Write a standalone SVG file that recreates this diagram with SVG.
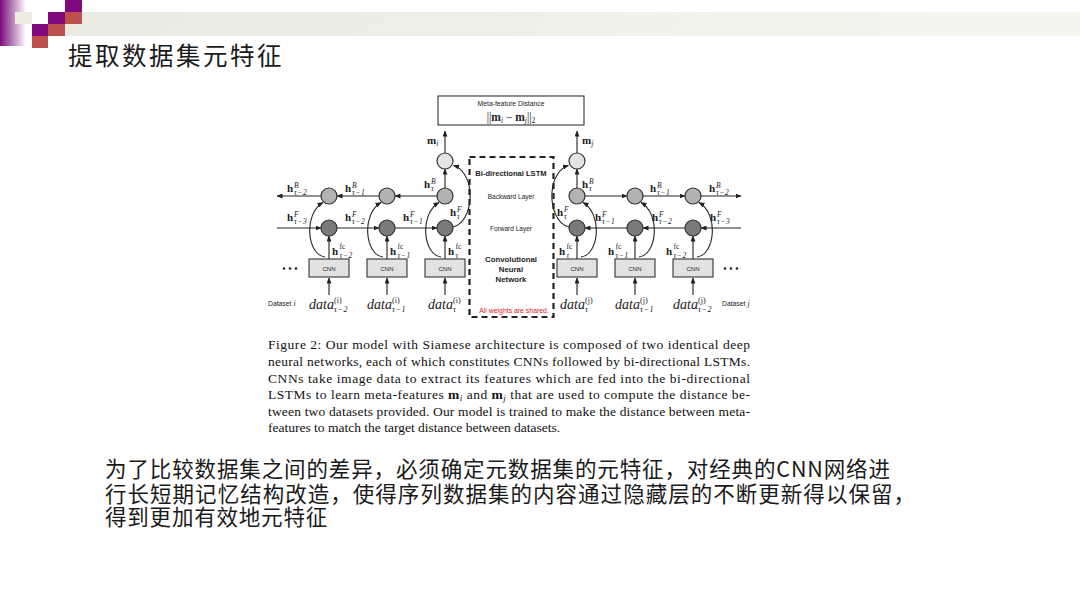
<svg xmlns="http://www.w3.org/2000/svg" width="1080" height="608" viewBox="0 0 1080 608">
<defs>
<linearGradient id="gstrip" x1="0" y1="0" x2="1" y2="0">
<stop offset="0" stop-color="#7a0a7c"/>
<stop offset="1" stop-color="#ffffff"/>
</linearGradient>
<linearGradient id="gband" x1="0" y1="0" x2="1" y2="0">
<stop offset="0" stop-color="#ecebe1"/>
<stop offset="1" stop-color="#f6f5f0"/>
</linearGradient>
<marker id="ah" markerUnits="userSpaceOnUse" markerWidth="6" markerHeight="5" refX="5.5" refY="2.5" orient="auto">
<path d="M0,0 L6,2.5 L0,5 z" fill="#222"/>
</marker>
<style>
.ln{stroke:#222;stroke-width:1.1;fill:none}
.ar{marker-end:url(#ah)}
.sf{font-family:"Liberation Sans",Arial,sans-serif;fill:#222}
.mf{font-family:"Liberation Serif","Times New Roman",serif;fill:#222}
.h{font-family:"Liberation Serif","Times New Roman",serif;font-weight:bold;font-size:11px;fill:#222}
.sp{font-weight:normal;font-style:italic;font-size:7.5px}
.sb{font-weight:normal;font-style:italic;font-size:7.5px;letter-spacing:0.6px}
.fc{font-weight:normal;font-style:normal;font-size:7.5px}
.dt{font-family:"Liberation Serif","Times New Roman",serif;font-style:italic;font-size:14px;fill:#222}
.ds{font-size:8px;font-style:normal}
.dsb{font-size:8px;font-style:italic;letter-spacing:0.6px}
.cir{stroke:#333;stroke-width:1.2}
.top{fill:#e4e4e4}
.bw{fill:#b2b2b2}
.fw{fill:#7a7a7a}
.cnn{fill:#e2e2e2;stroke:#333;stroke-width:1.1}
.cnt{font-family:"Liberation Sans",Arial,sans-serif;font-size:6px;fill:#222;text-anchor:middle}
.cap{font-family:"Liberation Serif","Times New Roman",serif;font-size:13.5px;fill:#111}
.zh{font-family:"Noto Sans CJK SC","Noto Sans",sans-serif;fill:#1a1a1a}
</style>
</defs>

<rect width="1080" height="608" fill="#ffffff"/>

<g id="decoration">
<rect x="0" y="0" width="26" height="46" fill="url(#gstrip)"/>
<rect x="82" y="12" width="998" height="12" fill="url(#gband)"/>
<rect x="65" y="24" width="1015" height="12" fill="url(#gband)"/>
<rect x="15" y="12" width="17" height="12" fill="#eeece1"/>
<rect x="65" y="0" width="17" height="12" fill="#7f0a80"/>
<rect x="48" y="12" width="17" height="12" fill="#7f0a80"/>
<rect x="32" y="24" width="16" height="12" fill="#7f0a80"/>
<rect x="65" y="12" width="17" height="12" fill="#c0504d"/>
<rect x="48" y="24" width="17" height="12" fill="#c0504d"/>
<rect x="32" y="36" width="16" height="12" fill="#c0504d"/>
</g>

<g id="title">
<text x="68" y="65" class="zh" font-size="24.5" letter-spacing="2.5">提取数据集元特征</text>
</g>

<g id="connectors">
<line class="ln ar" x1="445" y1="153" x2="445" y2="131"/>
<line class="ln ar" x1="577" y1="153" x2="577" y2="131"/>
<line class="ln ar" x1="445" y1="188" x2="445" y2="169"/>
<line class="ln ar" x1="577" y1="188" x2="577" y2="169"/>
<line class="ln ar" x1="437" y1="196" x2="395" y2="196"/>
<line class="ln ar" x1="379" y1="196" x2="337" y2="196"/>
<line class="ln ar" x1="321" y1="196" x2="277" y2="196"/>
<line class="ln ar" x1="277" y1="228" x2="321" y2="228"/>
<line class="ln ar" x1="337" y1="228" x2="379" y2="228"/>
<line class="ln ar" x1="395" y1="228" x2="437" y2="228"/>
<line class="ln ar" x1="585" y1="196" x2="627" y2="196"/>
<line class="ln ar" x1="643" y1="196" x2="685" y2="196"/>
<line class="ln ar" x1="701" y1="196" x2="741" y2="196"/>
<line class="ln ar" x1="741" y1="228" x2="701" y2="228"/>
<line class="ln ar" x1="685" y1="228" x2="643" y2="228"/>
<line class="ln ar" x1="627" y1="228" x2="585" y2="228"/>
<line class="ln ar" x1="329" y1="259" x2="329" y2="236"/>
<line class="ln ar" x1="387" y1="259" x2="387" y2="236"/>
<line class="ln ar" x1="445" y1="259" x2="445" y2="236"/>
<line class="ln ar" x1="577" y1="259" x2="577" y2="236"/>
<line class="ln ar" x1="635" y1="259" x2="635" y2="236"/>
<line class="ln ar" x1="693" y1="259" x2="693" y2="236"/>
<line class="ln ar" x1="329" y1="295" x2="329" y2="278"/>
<line class="ln ar" x1="387" y1="295" x2="387" y2="278"/>
<line class="ln ar" x1="445" y1="295" x2="445" y2="278"/>
<line class="ln ar" x1="577" y1="295" x2="577" y2="278"/>
<line class="ln ar" x1="635" y1="295" x2="635" y2="278"/>
<line class="ln ar" x1="693" y1="295" x2="693" y2="278"/>
<path class="ln ar" d="M325,257 C307,255 303,214 323,202.5"/>
<path class="ln ar" d="M383,257 C365,255 361,214 381,202.5"/>
<path class="ln ar" d="M441,257 C423,255 419,214 439,202.5"/>
<path class="ln ar" d="M581,257 C599,255 603,214 583,202.5"/>
<path class="ln ar" d="M639,257 C657,255 661,214 641,202.5"/>
<path class="ln ar" d="M697,257 C715,255 719,214 699,202.5"/>
<path class="ln ar" d="M453,227 C466,224 471,206 470,192 C469,178 462,168 453.5,165.5"/>
<path class="ln ar" d="M569,227 C556,224 551,206 552,192 C553,178 560,168 568.5,165.5"/>
</g>

<g id="distance-box">
<rect x="438" y="96" width="146" height="29" fill="#ffffff" stroke="#333" stroke-width="1.1"/>
<text x="511" y="106" class="sf" font-size="6.8" text-anchor="middle">Meta-feature Distance</text>
<text x="511" y="121" class="mf" font-size="11.5" text-anchor="middle">||<tspan font-weight="bold">m</tspan><tspan font-style="italic" font-size="7.5" dy="2">i</tspan><tspan dy="-2"> − </tspan><tspan font-weight="bold">m</tspan><tspan font-style="italic" font-size="7.5" dy="2">j</tspan><tspan dy="-2">||</tspan><tspan font-size="7.5" dy="2">2</tspan></text>
</g>

<g id="output-labels">
<text x="427" y="144" class="mf" font-size="11" font-weight="bold">m<tspan font-weight="normal" font-style="italic" font-size="7.5" dy="2">i</tspan></text>
<text x="582" y="144" class="mf" font-size="11" font-weight="bold">m<tspan font-weight="normal" font-style="italic" font-size="7.5" dy="2">j</tspan></text>
</g>

<g id="shared-box">
<rect x="469.5" y="157" width="84" height="160" fill="none" stroke="#222" stroke-width="2.2" stroke-dasharray="6,4"/>
<text x="511" y="176" class="sf" font-size="7.6" font-weight="bold" text-anchor="middle">Bi-directional LSTM</text>
<text x="511" y="199" class="sf" font-size="6.5" text-anchor="middle">Backward Layer</text>
<text x="511" y="231" class="sf" font-size="6.5" text-anchor="middle">Forward Layer</text>
<text x="511" y="262" class="sf" font-size="7.8" font-weight="bold" text-anchor="middle">Convolutional</text>
<text x="511" y="272" class="sf" font-size="7.8" font-weight="bold" text-anchor="middle">Neural</text>
<text x="511" y="281.5" class="sf" font-size="7.8" font-weight="bold" text-anchor="middle">Network</text>
<text x="514" y="313" font-family="Liberation Sans, Arial, sans-serif" font-size="6.9" fill="#e8161b" text-anchor="middle">All weights are shared.</text>
</g>

<g id="output-nodes">
<circle class="cir top" cx="445" cy="161" r="8"/>
<circle class="cir top" cx="577" cy="161" r="8"/>
</g>

<g id="backward-nodes">
<circle class="cir bw" cx="329" cy="196" r="8"/>
<circle class="cir bw" cx="387" cy="196" r="8"/>
<circle class="cir bw" cx="445" cy="196" r="8"/>
<circle class="cir bw" cx="577" cy="196" r="8"/>
<circle class="cir bw" cx="635" cy="196" r="8"/>
<circle class="cir bw" cx="693" cy="196" r="8"/>
</g>

<g id="forward-nodes">
<circle class="cir fw" cx="329" cy="228" r="8"/>
<circle class="cir fw" cx="387" cy="228" r="8"/>
<circle class="cir fw" cx="445" cy="228" r="8"/>
<circle class="cir fw" cx="577" cy="228" r="8"/>
<circle class="cir fw" cx="635" cy="228" r="8"/>
<circle class="cir fw" cx="693" cy="228" r="8"/>
</g>

<g id="cnn-nodes">
<rect class="cnn" x="309" y="259" width="40" height="18"/><text class="cnt" x="329" y="270.5">CNN</text>
<rect class="cnn" x="367" y="259" width="40" height="18"/><text class="cnt" x="387" y="270.5">CNN</text>
<rect class="cnn" x="425" y="259" width="40" height="18"/><text class="cnt" x="445" y="270.5">CNN</text>
<rect class="cnn" x="557" y="259" width="40" height="18"/><text class="cnt" x="577" y="270.5">CNN</text>
<rect class="cnn" x="615" y="259" width="40" height="18"/><text class="cnt" x="635" y="270.5">CNN</text>
<rect class="cnn" x="673" y="259" width="40" height="18"/><text class="cnt" x="693" y="270.5">CNN</text>
<g fill="#222">
<circle cx="284" cy="268.5" r="1.3"/><circle cx="290" cy="268.5" r="1.3"/><circle cx="296" cy="268.5" r="1.3"/>
<circle cx="725" cy="268.5" r="1.3"/><circle cx="731" cy="268.5" r="1.3"/><circle cx="737" cy="268.5" r="1.3"/>
</g>
</g>

<g id="hidden-labels">
<text class="h" x="287" y="192">h<tspan class="sp" x="294" y="187.5">B</tspan><tspan class="sb" x="294" y="195">τ−2</tspan></text>
<text class="h" x="345" y="192">h<tspan class="sp" x="352" y="187.5">B</tspan><tspan class="sb" x="352" y="195">τ−1</tspan></text>
<text class="h" x="424" y="188">h<tspan class="sp" x="431" y="183.5">B</tspan><tspan class="sb" x="431" y="191">τ</tspan></text>
<text class="h" x="582" y="188">h<tspan class="sp" x="589" y="183.5">B</tspan><tspan class="sb" x="589" y="191">τ</tspan></text>
<text class="h" x="650" y="192">h<tspan class="sp" x="657" y="187.5">B</tspan><tspan class="sb" x="657" y="195">τ−1</tspan></text>
<text class="h" x="709" y="192">h<tspan class="sp" x="716" y="187.5">B</tspan><tspan class="sb" x="716" y="195">τ−2</tspan></text>
<text class="h" x="287" y="221">h<tspan class="sp" x="294" y="216.5">F</tspan><tspan class="sb" x="294" y="224">τ−3</tspan></text>
<text class="h" x="345" y="221">h<tspan class="sp" x="352" y="216.5">F</tspan><tspan class="sb" x="352" y="224">τ−2</tspan></text>
<text class="h" x="403" y="221">h<tspan class="sp" x="410" y="216.5">F</tspan><tspan class="sb" x="410" y="224">τ−1</tspan></text>
<text class="h" x="450" y="216">h<tspan class="sp" x="457" y="211.5">F</tspan><tspan class="sb" x="457" y="219">τ</tspan></text>
<text class="h" x="557" y="216">h<tspan class="sp" x="564" y="211.5">F</tspan><tspan class="sb" x="564" y="219">τ</tspan></text>
<text class="h" x="595" y="221">h<tspan class="sp" x="602" y="216.5">F</tspan><tspan class="sb" x="602" y="224">τ−1</tspan></text>
<text class="h" x="652" y="221">h<tspan class="sp" x="659" y="216.5">F</tspan><tspan class="sb" x="659" y="224">τ−2</tspan></text>
<text class="h" x="710" y="221">h<tspan class="sp" x="717" y="216.5">F</tspan><tspan class="sb" x="717" y="224">τ−3</tspan></text>
<text class="h" x="332" y="255">h<tspan class="fc" x="339.5" y="249">fc</tspan><tspan class="sb" x="339.5" y="258">τ−2</tspan></text>
<text class="h" x="390" y="255">h<tspan class="fc" x="397.5" y="249">fc</tspan><tspan class="sb" x="397.5" y="258">τ−1</tspan></text>
<text class="h" x="448" y="255">h<tspan class="fc" x="455.5" y="249">fc</tspan><tspan class="sb" x="455.5" y="258">τ</tspan></text>
<text class="h" x="559" y="255">h<tspan class="fc" x="566.5" y="249">fc</tspan><tspan class="sb" x="566.5" y="258">τ</tspan></text>
<text class="h" x="608" y="255">h<tspan class="fc" x="615.5" y="249">fc</tspan><tspan class="sb" x="615.5" y="258">τ−1</tspan></text>
<text class="h" x="666" y="255">h<tspan class="fc" x="673.5" y="249">fc</tspan><tspan class="sb" x="673.5" y="258">τ−2</tspan></text>
</g>

<g id="data-labels">
<text class="sf" x="268" y="306" font-size="6.8">Dataset<tspan font-family="Liberation Serif, serif" font-style="italic" font-size="8"> i</tspan></text>
<text class="sf" x="722" y="306" font-size="6.8">Dataset<tspan font-family="Liberation Serif, serif" font-style="italic" font-size="8"> j</tspan></text>
<text class="dt" x="309" y="309">data<tspan class="ds" x="334" y="303">(i)</tspan><tspan class="dsb" x="334" y="312">τ−2</tspan></text>
<text class="dt" x="367" y="309">data<tspan class="ds" x="392" y="303">(i)</tspan><tspan class="dsb" x="392" y="312">τ−1</tspan></text>
<text class="dt" x="428" y="309">data<tspan class="ds" x="453" y="303">(i)</tspan><tspan class="dsb" x="453" y="312">τ</tspan></text>
<text class="dt" x="560" y="309">data<tspan class="ds" x="585" y="303">(j)</tspan><tspan class="dsb" x="585" y="312">τ</tspan></text>
<text class="dt" x="615" y="309">data<tspan class="ds" x="640" y="303">(j)</tspan><tspan class="dsb" x="640" y="312">τ−1</tspan></text>
<text class="dt" x="673" y="309">data<tspan class="ds" x="698" y="303">(j)</tspan><tspan class="dsb" x="698" y="312">τ−2</tspan></text>
</g>

<g id="caption">
<text class="cap" x="268" y="349" textLength="482" lengthAdjust="spacing">Figure 2: Our model with Siamese architecture is composed of two identical deep</text>
<text class="cap" x="268" y="366" textLength="482" lengthAdjust="spacing">neural networks, each of which constitutes CNNs followed by bi-directional LSTMs.</text>
<text class="cap" x="268" y="382.5" textLength="482" lengthAdjust="spacing">CNNs take image data to extract its features which are fed into the bi-directional</text>
<text class="cap" x="268" y="399" textLength="482" lengthAdjust="spacing">LSTMs to learn meta-features <tspan font-weight="bold">m</tspan><tspan font-style="italic" font-size="9" dy="2">i</tspan><tspan dy="-2"> and </tspan><tspan font-weight="bold">m</tspan><tspan font-style="italic" font-size="9" dy="2">j</tspan><tspan dy="-2"> that are used to compute the distance be-</tspan></text>
<text class="cap" x="268" y="415.5" textLength="482" lengthAdjust="spacing">tween two datasets provided. Our model is trained to make the distance between meta-</text>
<text class="cap" x="268" y="432">features to match the target distance between datasets.</text>
</g>

<g id="body-text">
<text class="zh" x="105" y="477" font-size="21.5" textLength="785" lengthAdjust="spacing">为了比较数据集之间的差异，必须确定元数据集的元特征，对经典的CNN网络进</text>
<text class="zh" x="105" y="502" font-size="21.5" textLength="810" lengthAdjust="spacing">行长短期记忆结构改造，使得序列数据集的内容通过隐藏层的不断更新得以保留，</text>
<text class="zh" x="105" y="525" font-size="21.5" letter-spacing="0.8">得到更加有效地元特征</text>
</g>
</svg>
